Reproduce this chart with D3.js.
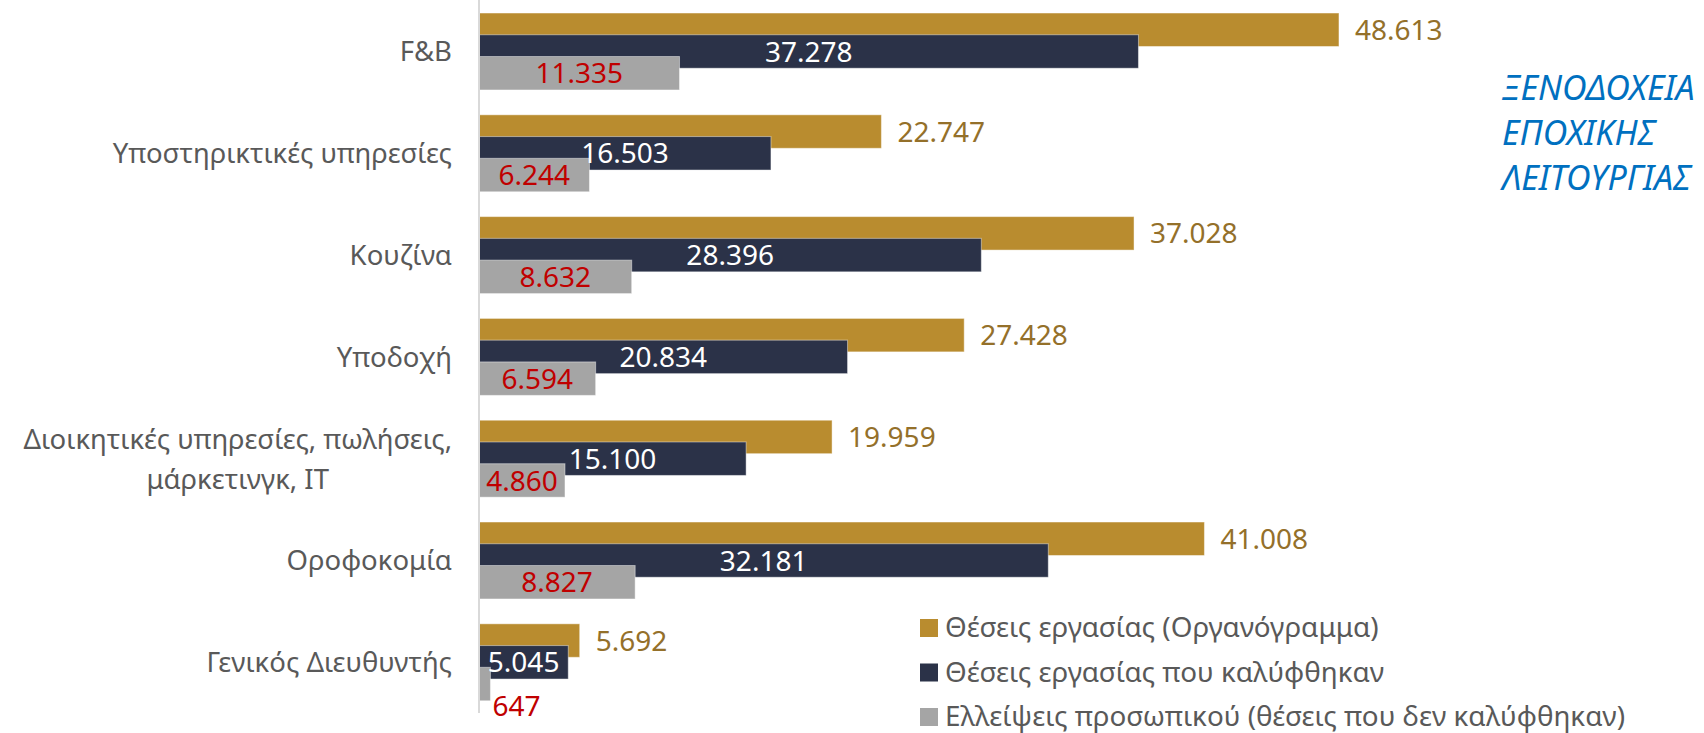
<!DOCTYPE html>
<html>
<head>
<meta charset="utf-8">
<script src="https://cdn.jsdelivr.net/npm/d3@7"></script>
<style>
  body { margin: 0; background: #fff; }
  svg { display: block; }
</style>
</head>
<body>
<div id="chart"></div>
<script>
var W = 1704, H = 733;

var categories = ["F&B", "Υποστηρικτικές υπηρεσίες", "Κουζίνα", "Υποδοχή",
                  "Διοικητικές υπηρεσίες, πωλήσεις,|μάρκετινγκ, IT", "Οροφοκομία", "Γενικός Διευθυντής"];
var seriesNames = ["Θέσεις εργασίας (Οργανόγραμμα)", "Θέσεις εργασίας που καλύφθηκαν",
                   "Ελλείψεις προσωπικού (θέσεις που δεν καλύφθηκαν)"];
var positions = [48613, 22747, 37028, 27428, 19959, 41008, 5692];
var filled    = [37278, 16503, 28396, 20834, 15100, 32181, 5045];
var shortage  = [11335, 6244, 8632, 6594, 4860, 8827, 647];
var titleLines = ["ΞΕΝΟΔΟΧΕΙΑ", "ΕΠΟΧΙΚΗΣ", "ΛΕΙΤΟΥΡΓΙΑΣ"];

var barColors = ["#B98C2F", "#2B3248", "#A5A5A5"];
var labelColors = ["#94702A", "#FFFFFF", "#C00000"];
var series = [positions, filled, shortage];

var svg = d3.select("#chart").append("svg")
  .attr("width", W).attr("height", H)
  .style("background", "#fff");

var x = d3.scaleLinear().domain([0, 50000]).range([479, 1363.5]);
var y = d3.scaleBand().domain(categories).range([0.6, 713.2])
  .paddingInner(0.244).paddingOuter(0.122);

var overlap = 0.35;
var barH = y.bandwidth() / (1 + 2 * (1 - overlap));
var barStep = barH * (1 - overlap);

var fmt = function(v) { return d3.format(",")(v).replace(/,/g, "."); };

// bars, series by series (later ones on top)
series.forEach(function(vals, s) {
  svg.append("g").selectAll("rect")
    .data(vals)
    .enter()
    .append("rect")
    .attr("x", x(0))
    .attr("y", function(d, i) { return y(categories[i]) + s * barStep; })
    .attr("width", function(d) { return x(d) - x(0); })
    .attr("height", barH)
    .attr("fill", barColors[s])
    .attr("stroke", "#ffffff")
    .attr("stroke-opacity", 0.45)
    .attr("stroke-width", 1);
});

// axis line
svg.append("line")
  .attr("x1", x(0)).attr("x2", x(0))
  .attr("y1", 0).attr("y2", 713)
  .attr("stroke", "#D9D9D9").attr("stroke-width", 2);

// value labels
var labFont = "'Liberation Sans Narrow', 'Noto Sans', sans-serif";
function tooSmall(d) { return x(d) - x(0) < 40; }
series.forEach(function(vals, s) {
  svg.append("g").selectAll("text")
    .data(vals)
    .enter()
    .append("text")
    .attr("x", function(d) {
      if (s === 0) return x(d) + 16;
      if (s === 2 && tooSmall(d)) return x(d) + 2;
      return (x(0) + x(d)) / 2;
    })
    .attr("y", function(d, i) {
      var c = y(categories[i]) + s * barStep + barH / 2;
      if (s === 2 && tooSmall(d)) c += 22;
      return c;
    })
    .attr("dy", "0.36em")
    .attr("text-anchor", function(d) {
      if (s === 0) return "start";
      if (s === 2 && tooSmall(d)) return "start";
      return "middle";
    })
    .attr("fill", labelColors[s])
    .attr("font-family", labFont)
    .attr("font-size", 28)
    .text(fmt);
});

// category labels
var cat = svg.append("g").selectAll("text")
  .data(categories)
  .enter()
  .append("text")
  .attr("font-family", "'Noto Sans', sans-serif")
  .attr("font-size", 27.5)
  .attr("fill", "#595959")
  .attr("text-anchor", "end")
  .attr("transform", function(d) {
    return "translate(452," + (y(d) + y.bandwidth() / 2) + ")";
  });

cat.each(function(d) {
  var lines = d.split("|");
  var t = d3.select(this);
  if (lines.length === 1) {
    t.append("tspan").attr("x", 0).attr("dy", "0.36em").text(d);
  } else {
    t.attr("text-anchor", "middle");
    var first = t.append("tspan").attr("x", 0).attr("dy", "-0.34em").text(lines[0]);
    var wd = first.node().getComputedTextLength();
    first.attr("x", -wd / 2);
    t.append("tspan").attr("x", -wd / 2).attr("dy", "1.46em").text(lines[1]);
  }
});

// legend
var legend = svg.append("g").selectAll("g")
  .data(seriesNames)
  .enter()
  .append("g")
  .attr("transform", function(d, i) { return "translate(920," + (628 + i * 44.5) + ")"; });

legend.append("rect")
  .attr("x", 0).attr("y", -9)
  .attr("width", 18).attr("height", 18)
  .attr("fill", function(d, i) { return barColors[i]; });

legend.append("text")
  .attr("x", 25).attr("dy", "0.34em")
  .attr("font-family", "'Noto Sans', sans-serif")
  .attr("font-size", 27.8)
  .attr("fill", "#595959")
  .text(function(d) { return d; });

// title
svg.append("g").selectAll("text")
  .data(titleLines)
  .enter()
  .append("text")
  .attr("x", 1502)
  .attr("y", function(d, i) { return 100 + i * 45; })
  .attr("font-family", "'Noto Sans', sans-serif")
  .attr("font-style", "italic")
  .attr("font-size", 34)
  .attr("fill", "#0070C0")
  .text(function(d) { return d; });
</script>
</body>
</html>
